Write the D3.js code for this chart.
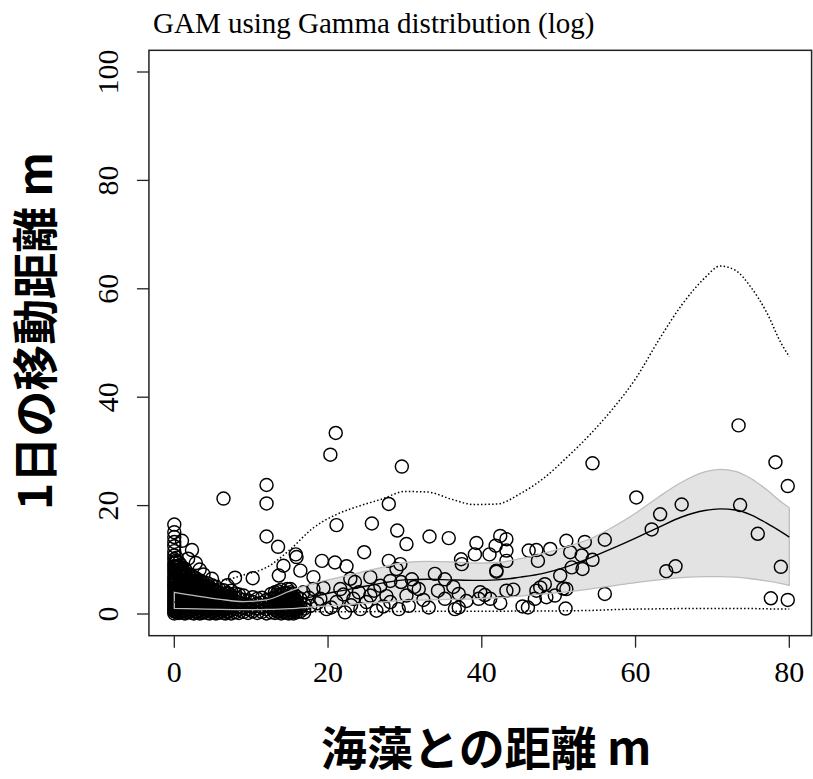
<!DOCTYPE html>
<html>
<head>
<meta charset="utf-8">
<title>GAM using Gamma distribution (log)</title>
<style>
  html, body {margin: 0; padding: 0; background: #fff;}
  svg {display: block;}
  .axis-title {font-family: "Noto Sans CJK JP", "Noto Sans", sans-serif; font-size: 46px; font-weight: bold; fill: #000;}
</style>
</head>
<body>
<div id="chart"></div>
<script src="https://cdn.jsdelivr.net/npm/d3@7"></script>
<script>
// tick values
var xTicks = [0, 20, 40, 60, 80];
var yTicks = [0, 20, 40, 60, 80, 100];

// observations near the seaweed: distance -> daily movements (overplotted blob)
var denseCols = [
  [0.0, [0.1,0.5,0.9,1.3,1.7,2.1,2.6,3.0,3.5,3.9,4.4,4.9,5.4,5.9,6.4,7.0,7.6,8.2,8.8,9.4,10.1,10.8,11.6,12.5,13.3,14.2,15.1,16.5]],
  [0.15, [0.6,1.5,2.4,3.3,4.2,5.1,6.0,6.9,7.8,8.7,9.8]],
  [0.3, [0.3,0.8,1.4,2.0,2.6,3.2,3.8,4.5,5.1,5.8,6.5,7.2,8.0,8.8,9.6,10.4]],
  [0.6, [0.2,0.7,1.2,1.8,2.4,3.1,3.7,4.3,5.0,5.7,6.4,7.1,7.9,8.7,9.5]],
  [0.8, [0.5,1.5,2.5,3.4,4.4,5.4,6.3,7.3,8.2,9.1]],
  [1.0, [0.4,1.0,1.6,2.2,2.9,3.5,4.1,4.8,5.5,6.2,7.0,7.8,8.6,13.5]],
  [1.2, [0.2,1.2,2.2,3.1,4.1,5.0,6.0,7.0,7.9]],
  [1.4, [0.1,0.7,1.3,1.9,2.5,3.2,3.9,4.6,5.3,6.0,6.8,7.6,8.3]],
  [1.8, [0.3,0.9,1.5,2.1,2.8,3.4,4.1,4.8,5.6,6.4,7.2,10.2]],
  [2.05, [0.5,1.5,2.4,3.4,4.3,5.2,6.1,6.9]],
  [2.3, [0.2,0.8,1.4,2.0,2.6,3.3,4.0,4.7,5.4,6.2,7.0,11.8]],
  [2.55, [0.1,1.1,2.0,3.0,3.9,4.9,5.8,6.8]],
  [2.8, [0.4,1.0,1.6,2.3,3.0,3.7,4.4,5.1,5.9,6.6,9.4]],
  [3.05, [0.4,1.4,2.3,3.3,4.3,5.2,6.0]],
  [3.3, [0.1,0.7,1.3,1.9,2.6,3.3,4.0,4.7,5.5,6.2,8.2]],
  [3.55, [0.2,1.1,2.1,3.0,4.0,5.0,5.7]],
  [3.8, [0.3,0.9,1.5,2.2,2.9,3.6,4.3,5.1,5.8,7.3]],
  [4.05, [0.5,1.4,2.4,3.3,4.3,5.2]],
  [4.3, [0.2,0.8,1.4,2.1,2.8,3.5,4.2,5.0,5.7]],
  [4.6, [0.1,1.1,2.0,3.0,3.9,4.9]],
  [4.9, [0.4,1.0,1.6,2.3,3.0,3.8,4.6,5.3,6.5]],
  [5.15, [0.5,1.4,2.3,3.3,4.3]],
  [5.4, [0.1,0.7,1.3,2.0,2.7,3.4,4.2,5.0]],
  [5.65, [0.2,1.1,2.0,3.0,4.0]],
  [5.9, [0.3,0.9,1.5,2.2,2.9,3.7,4.5]],
  [6.15, [0.5,1.4,2.4,3.3]],
  [6.4, [0.2,0.8,1.4,2.1,2.8,3.6,4.4,21.3]],
  [6.65, [0.1,1.1,2.0,3.0,3.8]],
  [6.9, [0.4,1.0,1.7,2.4,3.1,3.9,5.3]],
  [7.15, [0.5,1.4,2.3,3.2]],
  [7.4, [0.1,0.7,1.3,2.0,2.7,3.5,4.3]],
  [7.9, [0.3,0.9,1.5,2.2,3.0,3.8,6.7]],
  [8.4, [0.2,0.8,1.4,2.1,2.9,3.6]],
  [9.0, [0.4,1.1,1.8,2.6,3.4]],
  [9.6, [0.2,0.9,1.7,2.5]],
  [10.2, [0.5,1.3,2.2,3.1,6.6]],
  [10.8, [0.2,1.0,1.9,2.8]],
  [11.4, [0.4,1.2,2.1,3.0]],
  [12.0, [0.1,0.9,1.7,2.6,14.3,20.4,23.8]],
  [12.6, [0.3,1.1,1.9,2.8,3.7]],
  [13.1, [0.2,0.8,1.5,2.3,3.1,4.0]],
  [13.3, [0.6,1.3,2.0,2.8,3.6]],
  [13.5, [0.4,1.0,1.7,2.5,3.3,4.2,12.4]],
  [13.9, [0.1,0.7,1.4,2.1,2.9,3.7,4.5]],
  [14.1, [0.5,1.2,2.0,2.7,3.5]],
  [14.3, [0.3,0.9,1.6,2.3,3.1,3.9]],
  [14.7, [0.2,0.8,1.5,2.2,3.0,3.8,4.6]],
  [14.9, [0.1,0.6,1.3,2.0,2.7]],
  [15.1, [0.4,1.0,1.7,2.4,3.2,4.0]],
  [15.5, [0.1,0.7,1.4,2.1,2.9,3.7]],
  [15.7, [0.5,1.2,2.0,2.7]],
  [15.9, [0.3,0.9,1.6,2.4,3.2]],
  [16.4, [0.5,1.2,2.0,2.8]],
  [16.9, [0.3,1.0,1.8]]
];

// the rest of the observations [distance, movement]
var spread = [
  [15.8,11.0],[14.2,8.9],[16.4,8.0],[13.6,7.1],[18.1,6.8],[15.9,10.5],[19.2,9.8],[20.9,9.5],[22.4,8.8],
  [20.3,29.4],[21.0,33.4],[29.6,27.2],[21.1,16.4],[25.7,16.7],[27.9,20.3],[29.0,15.4],[30.2,12.9],
  [24.7,11.4],[27.9,9.8],[28.9,8.3],[22.9,6.5],[23.5,5.9],[25.5,6.8],[26.8,5.2],[28.1,6.1],[29.5,5.9],
  [30.2,3.4],[25.5,3.4],[23.3,2.8],[21.1,2.2],[19.0,2.8],[19.8,0.9],[17.7,1.5],[24.2,0.9],[26.3,0.6],
  [28.1,2.2],[29.2,0.9],[22.2,0.3],[16.8,4.0],[15.1,4.6],[18.1,4.6],[19.4,4.8],[21.6,4.6],[18.6,2.0],
  [20.4,1.2],[23.0,1.6],[25.0,2.2],[27.2,1.4],[26.0,4.3],[24.0,4.0],[27.6,3.3],[22.0,3.6],[17.5,3.0],
  [33.2,14.3],[35.7,14.0],[29.4,9.2],[30.9,6.4],[31.8,4.6],[33.9,7.4],[35.2,6.4],[37.0,3.7],[36.5,0.9],
  [37.0,1.2],[35.2,2.8],[33.1,1.2],[30.5,1.5],[31.2,5.0],[32.4,2.6],[34.3,4.3],[36.3,5.0],[38.0,2.4],
  [39.8,4.0],[40.4,3.5],[41.1,2.8],[42.4,2.0],[43.2,4.3],[44.1,4.5],[39.6,2.8],[48.4,3.1],[49.5,3.4],
  [50.2,7.1],[41.9,7.8],[37.3,10.1],[37.4,9.2],[39.3,13.1],[39.1,11.0],[41.0,11.0],[42.4,14.4],
  [43.2,13.8],[41.8,12.6],[43.2,11.7],[43.2,9.8],[41.9,8.0],[46.1,11.7],[47.1,11.8],[48.9,12.0],
  [47.3,9.8],[48.2,5.5],[47.1,4.3],[46.0,1.2],[45.3,1.4],[46.9,2.8],[47.6,4.9],[50.6,4.7],[51.0,4.6],
  [50.9,1.0],[51.0,13.5],[53.4,13.3],[51.5,11.4],[53.0,10.8],[54.4,10.0],[53.1,8.3],[51.7,8.6],
  [56.0,13.7],[56.0,3.7],[54.4,27.8],[60.1,21.5],[66.0,20.2],[63.2,18.4],[62.1,15.6],[73.6,20.1],
  [75.9,14.8],[78.9,8.7],[65.2,8.8],[64.0,7.9],[77.6,2.9],[79.8,2.6],[73.4,34.8],[78.2,28.0],[79.8,23.6]
];

// GAM fit (Gamma, log link) and bands
var fitX     = [0, 3, 6, 9, 12, 15, 18, 21, 24, 27, 30, 33, 36, 39, 42, 45, 48, 51, 54, 57, 60, 63, 66, 69, 71, 73, 75, 77, 79, 80];
var fitY     = [2.2, 1.9, 1.6, 1.4, 1.6, 2.3, 3.2, 4.1, 4.9, 5.7, 6.3, 6.4, 6.3, 6.2, 6.3, 6.8, 7.5, 8.7, 10.3, 12.1, 14.0, 16.0, 17.9, 19.1, 19.4, 19.2, 18.3, 16.8, 15.1, 14.2];
var ciUpper  = [4.0, 3.3, 2.7, 2.3, 2.6, 4.2, 5.6, 6.6, 7.6, 8.6, 9.5, 9.7, 9.6, 9.4, 9.5, 10.2, 11.2, 12.4, 13.8, 16.0, 18.6, 21.6, 24.3, 26.2, 26.7, 26.3, 25.0, 23.0, 20.6, 19.6];
var ciLower  = [1.05, 0.95, 0.85, 0.8, 0.85, 1.0, 1.3, 1.6, 1.9, 2.2, 2.5, 2.6, 2.7, 2.8, 3.0, 3.3, 3.7, 4.1, 4.6, 5.2, 5.8, 6.3, 6.7, 6.9, 6.9, 6.8, 6.5, 6.1, 5.6, 5.3];
var piUpper  = [7.0, 6.3, 6.2, 7.2, 8.6, 11.8, 15.8, 18.3, 19.9, 21.2, 22.6, 22.5, 21.2, 20.2, 20.3, 22.2, 25.0, 28.8, 33.0, 37.8, 43.4, 50.5, 57.0, 62.0, 64.2, 63.4, 60.3, 55.8, 49.8, 47.5];
var piLower  = [0.3, 0.3, 0.3, 0.3, 0.3, 0.35, 0.4, 0.4, 0.4, 0.45, 0.45, 0.5, 0.5, 0.5, 0.5, 0.55, 0.55, 0.6, 0.65, 0.8, 0.9, 0.95, 1.0, 1.0, 1.0, 1.0, 1.0, 0.95, 0.9, 0.9];

var width = 813, height = 779;
var serif = "'Liberation Serif', 'Times New Roman', Times, serif";

var x = d3.scaleLinear().domain([0, 80]).range([174.3, 789.3]);
var y = d3.scaleLinear().domain([0, 100]).range([614, 72]);

var svg = d3.select("#chart").append("svg")
    .attr("width", width)
    .attr("height", height);

// points
var points = [];
denseCols.forEach(function(c) {
    c[1].forEach(function(v) { points.push([c[0], v]); });
});
spread.forEach(function(p) { points.push(p); });

svg.append("g").selectAll("circle")
    .data(points)
  .enter().append("circle")
    .attr("cx", function(d) { return x(d[0]); })
    .attr("cy", function(d) { return y(d[1]); })
    .attr("r", 6.5)
    .attr("fill", "none")
    .attr("stroke", "#000")
    .attr("stroke-width", 1.45);

var band = fitX.map(function(v, i) { return {x: v, fit: fitY[i], lo: ciLower[i], hi: ciUpper[i], plo: piLower[i], phi: piUpper[i]}; });

// confidence band, drawn over the points (translucent)
svg.append("path")
    .datum(band)
    .attr("d", d3.area()
        .x(function(d) { return x(d.x); })
        .y0(function(d) { return y(d.lo); })
        .y1(function(d) { return y(d.hi); })
        .curve(d3.curveMonotoneX))
    .attr("fill", "rgba(0,0,0,0.11)")
    .attr("stroke", "#bdbdbd")
    .attr("stroke-width", 1.3);

function lineOf(key) {
    return d3.line()
        .x(function(d) { return x(d.x); })
        .y(function(d) { return y(d[key]); })
        .curve(d3.curveMonotoneX);
}

svg.append("path").datum(band).attr("d", lineOf("fit"))
    .attr("fill", "none").attr("stroke", "#000").attr("stroke-width", 1.4);

["plo", "phi"].forEach(function(k) {
    svg.append("path").datum(band).attr("d", lineOf(k))
        .attr("fill", "none").attr("stroke", "#000").attr("stroke-width", 1.5)
        .attr("stroke-dasharray", "1.5,2.2");
});

// plot box
var x0 = x(-3.3), x1 = x(82.9), yTop = y(104), yBot = y(-4);
svg.append("rect")
    .attr("x", x0).attr("y", yTop)
    .attr("width", x1 - x0).attr("height", yBot - yTop)
    .attr("fill", "none").attr("stroke", "#222").attr("stroke-width", 1.5);

// x axis
var gx = svg.append("g");
gx.selectAll("line").data(xTicks).enter().append("line")
    .attr("x1", function(d) { return x(d); }).attr("x2", function(d) { return x(d); })
    .attr("y1", yBot).attr("y2", yBot + 12)
    .attr("stroke", "#222").attr("stroke-width", 1.3);
gx.selectAll("text").data(xTicks).enter().append("text")
    .attr("x", function(d) { return x(d); })
    .attr("y", 682)
    .attr("text-anchor", "middle")
    .attr("font-family", serif)
    .attr("font-size", 30)
    .text(function(d) { return d; });

// y axis
var gy = svg.append("g");
gy.selectAll("line").data(yTicks).enter().append("line")
    .attr("x1", x0 - 12).attr("x2", x0)
    .attr("y1", function(d) { return y(d); }).attr("y2", function(d) { return y(d); })
    .attr("stroke", "#222").attr("stroke-width", 1.3);
gy.selectAll("text").data(yTicks).enter().append("text")
    .attr("transform", function(d) { return "translate(118," + y(d) + ") rotate(-90)"; })
    .attr("text-anchor", "middle")
    .attr("font-family", serif)
    .attr("font-size", 30)
    .text(function(d) { return d; });

// titles
svg.append("text")
    .attr("x", 153).attr("y", 33)
    .attr("font-family", serif)
    .attr("font-size", 29)
    .text("GAM using Gamma distribution (log)");

svg.append("text").attr("class", "axis-title")
    .attr("x", (x0 + x1) / 2 + 6).attr("y", 765)
    .attr("text-anchor", "middle")
    .text("海藻との距離 m");

svg.append("text").attr("class", "axis-title")
    .attr("transform", "translate(52,331) rotate(-90)")
    .attr("text-anchor", "middle")
    .text("1日の移動距離 m");
</script>
</body>
</html>
